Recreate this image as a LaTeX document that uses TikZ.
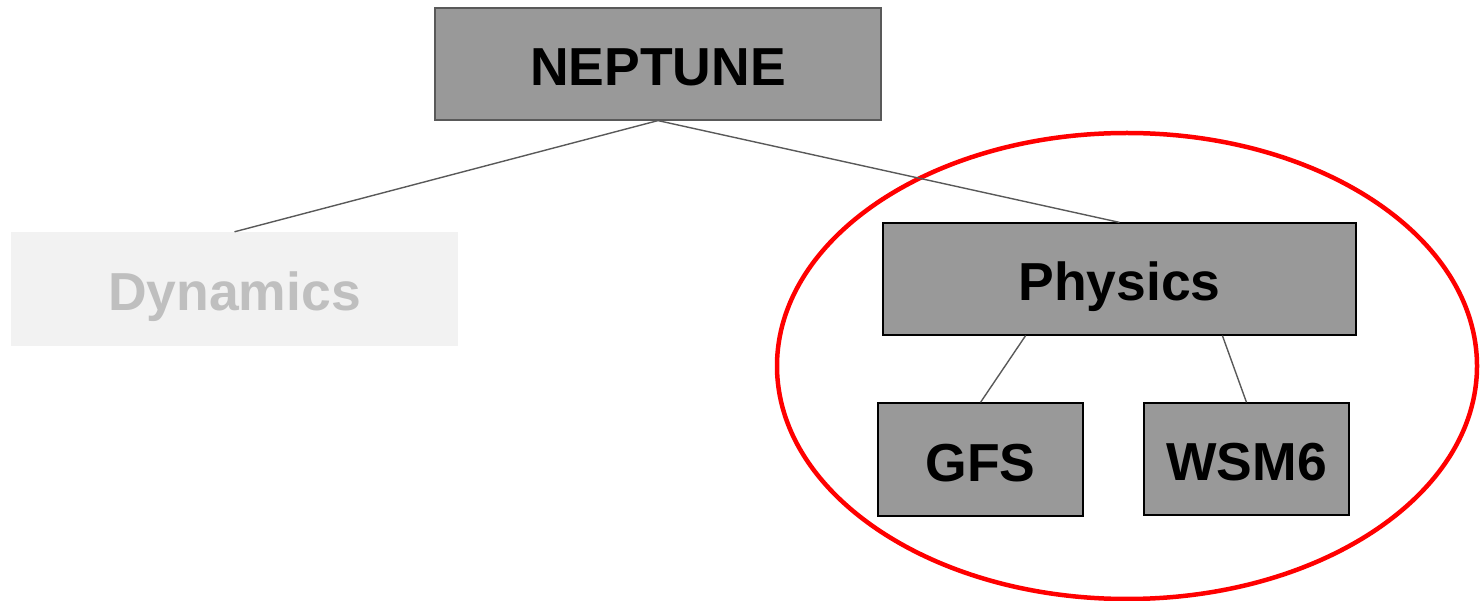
\documentclass[tikz,border=0pt]{standalone}
\usepackage{fontspec}
\setmainfont{Liberation Sans}
\usetikzlibrary{calc}
\definecolor{boxfill}{HTML}{999999}
\definecolor{boxline}{HTML}{595959}
\definecolor{fadefill}{HTML}{F2F2F2}
\definecolor{fadetext}{HTML}{BFBFBF}
\definecolor{ringred}{HTML}{FF0000}
\tikzset{
  label font/.style={font=\fontsize{53.5}{64}\selectfont\bfseries,
    text height=44pt, text depth=0pt},
  box/.style={draw=boxline, line width=1.2pt, fill=boxfill, inner sep=0pt,
    label font, text=black},
  darkbox/.style={box, draw=black},
  fadebox/.style={fill=fadefill, inner sep=0pt, label font, text=fadetext},
  link/.style={draw=boxline, line width=1.4pt},
}
\begin{document}
\begin{tikzpicture}[x=1pt, y=-1pt]
  \useasboundingbox (0,0) rectangle (1484,601);
  % red ring around the physics branch
  \draw[ringred, line width=4.5pt] (1127,366) ellipse [x radius=350, y radius=233];
  % tree nodes
  \node[box, minimum width=446pt, minimum height=112pt] (nep) at (658,64) {NEPTUNE};
  \node[fadebox, minimum width=447pt, minimum height=114pt] (dyn) at (234.5,289) {Dynamics};
  \node[darkbox, minimum width=473pt, minimum height=112pt] (phy) at (1119.5,279) {Physics};
  \node[darkbox, minimum width=205pt, minimum height=113pt] (gfs) at (980.5,459.5) {GFS};
  \node[darkbox, minimum width=205pt, minimum height=112pt] (wsm) at (1246.5,459) {WSM6};
  % connectors
  \draw[link] (nep.south) -- (dyn.north);
  \draw[link] (nep.south) -- (phy.north);
  \draw[link] ($(phy.south west)!0.302!(phy.south east)$) -- (gfs.north);
  \draw[link] ($(phy.south west)!0.717!(phy.south east)$) -- (wsm.north);
\end{tikzpicture}
\end{document}
